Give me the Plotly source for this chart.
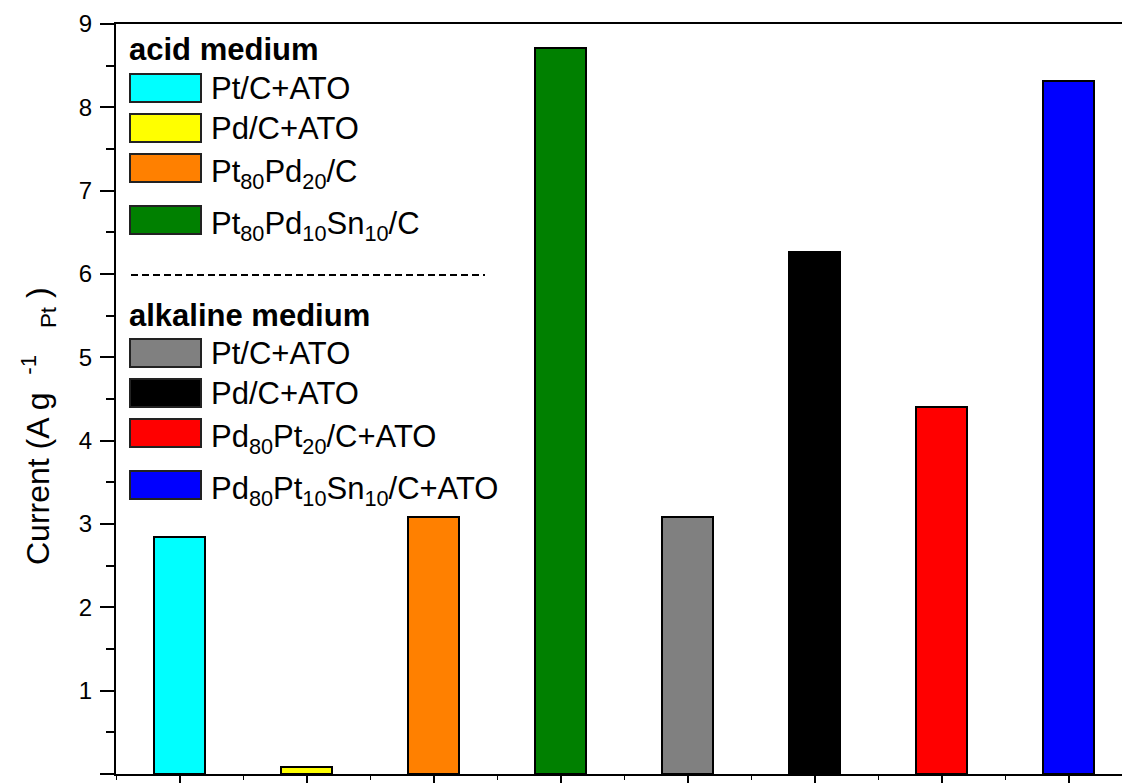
import plotly.graph_objects as go

# Mass activity of each catalyst (A g^-1 Pt)
samples = ["Pt/C+ATO", "Pd/C+ATO", "Pt<sub>80</sub>Pd<sub>20</sub>/C",
           "Pt<sub>80</sub>Pd<sub>10</sub>Sn<sub>10</sub>/C",
           "Pt/C+ATO", "Pd/C+ATO", "Pd<sub>80</sub>Pt<sub>20</sub>/C+ATO",
           "Pd<sub>80</sub>Pt<sub>10</sub>Sn<sub>10</sub>/C+ATO"]
current = [2.84, 0.09, 3.09, 8.71, 3.08, 6.26, 4.40, 8.32]
colors = ["#00FFFF", "#FFFF00", "#FF8000", "#008000",
          "#808080", "#000000", "#FF0000", "#0000FF"]
group_titles = ["acid medium", "alkaline medium"]
y_title = "Current (A g  <sup>-1</sup>   <sub>Pt</sub> )"

W, H = 1122, 783
L, R, T, B = 116, 0, 24, 9
FONT = "Liberation Sans, Arial, Helvetica, sans-serif"

positions = list(range(len(current)))

fig = go.Figure()
fig.add_trace(go.Bar(
    x=positions, y=current, width=0.4,
    marker=dict(color=colors, line=dict(color="#000000", width=2)),
    showlegend=False,
))

# legend built from shapes and annotations, placed in pixel units of the page
def px_x(x):
    return (x - L) / (W - L - R)

def px_y(y):
    return 1 - (y - T) / (H - T - B)

shapes = []
annotations = []
swatch_rows = [88, 128, 168, 220, 353, 393, 433, 485]
title_rows = [50, 315]

for g, yc in zip(group_titles, title_rows):
    annotations.append(dict(
        x=px_x(127), y=px_y(yc), xref="paper", yref="paper",
        xanchor="left", yanchor="middle", showarrow=False,
        text=f"<b>{g}</b>", font=dict(family=FONT, size=31, color="#000000"),
    ))

for name, col, yc in zip(samples, colors, swatch_rows):
    shapes.append(dict(
        type="rect", xref="paper", yref="paper",
        x0=px_x(130), x1=px_x(201), y0=px_y(yc - 14), y1=px_y(yc + 14),
        fillcolor=col, line=dict(color="#222222", width=2),
    ))
    has_sub = "<sub>" in name
    annotations.append(dict(
        x=px_x(209), y=px_y(yc), xref="paper", yref="paper",
        xanchor="left", yanchor="middle", showarrow=False,
        text=name, font=dict(family=FONT, size=31, color="#000000"),
        yshift=-6 if has_sub else 0,
    ))

# rotated y-axis title
annotations.append(dict(
    x=px_x(38), y=px_y(426), xref="paper", yref="paper",
    xanchor="center", yanchor="middle", showarrow=False, textangle=-90,
    text=y_title, font=dict(family=FONT, size=32, color="#000000"),
))

# dashed separator between the two groups
shapes.append(dict(
    type="line", xref="paper", yref="paper",
    x0=px_x(131), x1=px_x(485), y0=px_y(275), y1=px_y(275),
    line=dict(color="#000000", width=2, dash="7px,4px"),
))

fig.update_layout(
    width=W, height=H,
    margin=dict(l=L, r=R, t=T, b=B, pad=0),
    paper_bgcolor="white", plot_bgcolor="white",
    shapes=shapes, annotations=annotations,
    font=dict(family=FONT, color="#000000"),
    bargap=0,
)

fig.update_xaxes(
    range=[-0.5, 7.42], tickvals=positions, showticklabels=False,
    ticks="outside", ticklen=10, tickwidth=2, tickcolor="#000000",
    showline=True, linecolor="#000000", linewidth=2, mirror=True,
    showgrid=False, zeroline=False,
    minor=dict(ticks="outside", ticklen=4, tickwidth=1, dtick=1, tick0=0.5,
               tickcolor="#000000"),
)

fig.update_yaxes(
    range=[0, 9], tickvals=list(range(10)),
    ticks="outside", ticklen=14, tickwidth=2, tickcolor="#000000",
    ticklabelstandoff=3,
    tickfont=dict(family=FONT, size=24, color="#000000"),
    showline=True, linecolor="#000000", linewidth=2, mirror=False,
    showgrid=False, zeroline=False,
    minor=dict(ticks="outside", ticklen=8, tickwidth=2, dtick=0.5,
               tickcolor="#000000"),
)

fig.write_html("out.html")
